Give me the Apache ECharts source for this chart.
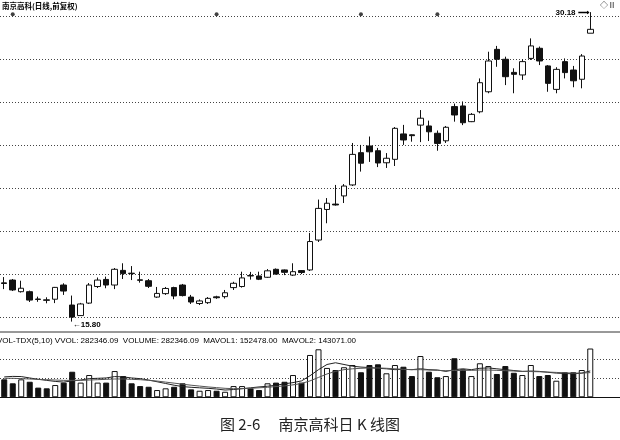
<!DOCTYPE html>
<html>
<head>
<meta charset="utf-8">
<script src="https://cdn.jsdelivr.net/npm/echarts@6/dist/echarts.min.js"></script>
<style>
html,body{margin:0;padding:0;background:#fff;}
#c{width:620px;height:440px;}
</style>
</head>
<body>
<div id="c"></div>
<script>
// ---- data ----
var days = [];
for (var d = 1; d <= 70; d++) days.push('D' + d);
var openP  = [17.60,17.73,17.19,17.19,16.85,16.81,16.84,17.50,16.57,16.08,16.66,17.43,17.76,17.50,18.18,18.05,17.74,17.70,16.94,17.10,17.38,17.50,16.94,16.64,16.68,16.95,16.96,17.38,17.43,17.94,17.92,17.86,18.23,18.20,17.96,18.17,18.20,19.59,21.01,21.26,21.64,22.15,23.65,23.96,23.74,23.18,23.34,24.52,24.48,24.93,24.89,24.55,24.20,25.79,25.82,25.09,25.55,26.48,28.45,27.99,27.38,27.26,28.03,28.50,27.68,26.59,27.88,27.49,27.06,29.20];
var closeP = [17.57,17.27,17.35,16.80,16.83,16.79,17.39,17.22,16.01,16.62,17.50,17.73,17.50,18.23,18.03,18.03,17.72,17.44,17.11,17.34,16.99,17.01,16.71,16.76,16.88,16.91,17.14,17.58,17.83,17.92,17.77,18.16,18.01,18.09,18.12,18.08,19.52,21.06,21.30,21.22,22.10,23.57,23.16,23.69,23.17,23.39,24.78,24.24,24.44,25.25,24.62,24.08,24.83,25.40,25.04,25.43,26.90,27.91,27.99,27.18,27.29,27.88,28.61,27.91,26.87,27.52,27.37,26.99,28.14,29.38];
var lowP   = [17.31,17.22,17.15,16.71,16.72,16.65,16.66,17.04,15.80,16.06,16.62,17.36,17.35,17.31,17.78,17.73,17.61,17.36,16.90,17.04,16.84,16.97,16.62,16.57,16.62,16.86,16.87,17.27,17.38,17.75,17.73,17.83,17.99,17.96,17.92,18.01,18.15,19.50,20.37,21.19,21.31,22.10,22.77,23.22,22.98,22.94,23.03,24.01,24.16,24.14,24.19,23.74,24.10,25.09,24.93,25.07,25.48,26.41,27.64,26.79,26.41,27.03,27.96,27.72,26.48,26.41,27.10,26.69,26.64,29.20];
var highP  = [17.87,17.78,17.70,17.24,16.96,16.93,17.41,17.58,17.01,16.67,17.59,17.85,17.89,18.29,18.51,18.38,18.12,17.78,17.41,17.41,17.42,17.55,17.04,16.83,16.94,17.00,17.27,17.65,18.12,18.11,18.12,18.24,18.27,18.22,18.51,18.19,19.92,21.47,21.54,22.15,22.19,24.10,24.01,24.40,23.87,23.63,24.84,24.94,24.50,25.63,25.14,24.68,24.89,25.93,26.03,25.49,27.10,28.34,28.61,28.11,27.57,27.99,28.96,28.58,27.72,27.62,28.03,27.68,28.23,30.18];
var volume = [104000,81000,104000,90000,56000,52000,71000,85000,148000,85000,129000,85000,85000,152000,123000,81000,65000,61000,42000,52000,61000,81000,46000,38000,42000,38000,32000,65000,65000,52000,42000,81000,85000,90000,129000,85000,245000,278000,170000,158000,174000,187000,145000,187000,191000,139000,187000,177000,123000,239000,148000,116000,123000,226000,162000,123000,197000,181000,135000,181000,142000,129000,187000,123000,129000,96000,145000,145000,158000,282346];
var mavol1 = [118000,121000,120000,112000,104000,98000,92000,88000,95000,100000,108000,110000,112000,120000,118000,112000,108000,100000,90000,80000,70000,62000,58000,55000,52000,48000,42000,45000,50000,55000,60000,64000,70000,78000,85000,95000,125000,160000,190000,200000,190000,180000,175000,172000,168000,165000,160000,162000,160000,165000,160000,158000,150000,160000,165000,160000,168000,170000,165000,160000,155000,150000,152000,150000,145000,140000,138000,136000,140000,152478];
var mavol2 = [110000,110000,108000,106000,104000,102000,100000,98000,98000,98000,100000,102000,104000,106000,106000,104000,102000,98000,94000,88000,82000,76000,70000,65000,60000,56000,52000,50000,50000,52000,55000,58000,62000,66000,72000,80000,95000,115000,135000,150000,160000,165000,168000,170000,170000,168000,165000,162000,160000,160000,158000,156000,154000,155000,156000,156000,158000,158000,156000,154000,152000,150000,149000,148000,146000,144000,142000,140000,140000,143071];
var extraSlots = 3;
var minePoints = [1, 25, 42, 51];
var lowLabel = '15.80';
var highLabel = '30.18';

// ---- build ----
var cats = days.concat(['', '', ''].slice(0, extraSlots));
var kData = openP.map(function (o, i) { return [o, closeP[i], lowP[i], highP[i]]; });
var volData = volume.map(function (v, i) {
  var up = closeP[i] >= openP[i];
  return { value: v, itemStyle: { color: up ? '#fff' : '#111', borderColor: '#111', borderWidth: 1 } };
});
var mineData = minePoints.map(function (i) { return [i, 30.08]; });
var iLow = lowP.indexOf(Math.min.apply(null, lowP));
var iHigh = highP.indexOf(Math.max.apply(null, highP));

var chart = echarts.init(document.getElementById('c'), null, { renderer: 'canvas' });
var dotted = { show: true, lineStyle: { color: '#444', type: [1, 2], width: 1 } };
chart.setOption({
  animation: false,
  backgroundColor: '#fff',
  textStyle: { fontFamily: 'Liberation Sans, Arial, sans-serif' },
  grid: [
    { left: 0, right: 0, top: 16, height: 301.3, show: false },
    { left: 0, right: 0, top: 340.3, height: 57, show: false }
  ],
  xAxis: [
    { type: 'category', gridIndex: 0, data: cats, boundaryGap: true,
      axisLine: { show: false }, axisTick: { show: false }, axisLabel: { show: false }, splitLine: { show: false } },
    { type: 'category', gridIndex: 1, data: cats, boundaryGap: true,
      axisLine: { show: true, lineStyle: { color: '#111', width: 1 } }, axisTick: { show: false }, axisLabel: { show: false } }
  ],
  yAxis: [
    { type: 'value', gridIndex: 0, min: 16, max: 30, interval: 2,
      axisLine: { show: false }, axisTick: { show: false }, axisLabel: { show: false }, splitLine: dotted },
    { type: 'value', gridIndex: 1, min: 0, max: 330000, interval: 110000,
      axisLine: { show: false }, axisTick: { show: false }, axisLabel: { show: false },
      splitLine: { show: true, showMinLine: false, showMaxLine: false, lineStyle: { color: '#444', type: [1, 2], width: 1 } } }
  ],
  series: [
    { name: '南京高科', type: 'candlestick', xAxisIndex: 0, yAxisIndex: 0, data: kData, clip: false,
      barWidth: 6,
      itemStyle: { color: '#fff', color0: '#111', borderColor: '#111', borderColor0: '#111', borderWidth: 1 }
    },
    { name: '信息地雷', type: 'scatter', xAxisIndex: 0, yAxisIndex: 0, data: mineData, symbol: 'circle', symbolSize: 4,
      clip: false, itemStyle: { color: '#111' } },
    { name: '极值', type: 'scatter', xAxisIndex: 0, yAxisIndex: 0, clip: false, symbolSize: 1,
      itemStyle: { color: 'rgba(0,0,0,0)' }, emphasis: { disabled: true },
      data: [
        { value: [iLow, lowP[iLow]], label: { show: true, position: 'right', distance: 0, offset: [0, 3], formatter: '←' + lowLabel, fontSize: 8, fontWeight: 'bold', color: '#000', opacity: 1 } },
        { value: [iHigh, highP[iHigh]], label: { show: true, position: 'left', distance: 0, offset: [-1, 1], formatter: highLabel + ' ⟶', fontSize: 8, fontWeight: 'bold', color: '#000', opacity: 1 } }
      ]
    },
    { name: 'VOLUME', type: 'bar', xAxisIndex: 1, yAxisIndex: 1, data: volData, barWidth: 6 },
    { name: 'MAVOL1', type: 'line', xAxisIndex: 1, yAxisIndex: 1, data: mavol1, symbol: 'none', smooth: false,
      lineStyle: { color: '#222', width: 1 } },
    { name: 'MAVOL2', type: 'line', xAxisIndex: 1, yAxisIndex: 1, data: mavol2, symbol: 'none', smooth: false,
      lineStyle: { color: '#555', width: 1 } }
  ],
  graphic: [
    { type: 'text', left: 2, top: 2, style: { text: '南京高科(日线,前复权)', font: 'bold 7.5px "Noto Sans CJK SC", sans-serif', fill: '#000' } },
    { type: 'text', right: 4, top: 1, style: { text: '◇Ⅱ', font: '8px "Noto Sans CJK SC", sans-serif', fill: '#111' } },
    { type: 'line', shape: { x1: 0, y1: 332, x2: 620, y2: 332 }, style: { stroke: '#333', lineWidth: 1 } },
    { type: 'text', left: -3, top: 337, style: { text: 'VOL-TDX(5,10) VVOL: 282346.09  VOLUME: 282346.09  MAVOL1: 152478.00  MAVOL2: 143071.00', font: '8px "Liberation Sans", Arial, sans-serif', fill: '#000' } },
    { type: 'text', left: 'center', top: 417, style: { text: '图 2-6　 南京高科日 K 线图', font: '15px "Noto Sans CJK SC", sans-serif', fill: '#222' } }
  ]
});
</script>
</body>
</html>
